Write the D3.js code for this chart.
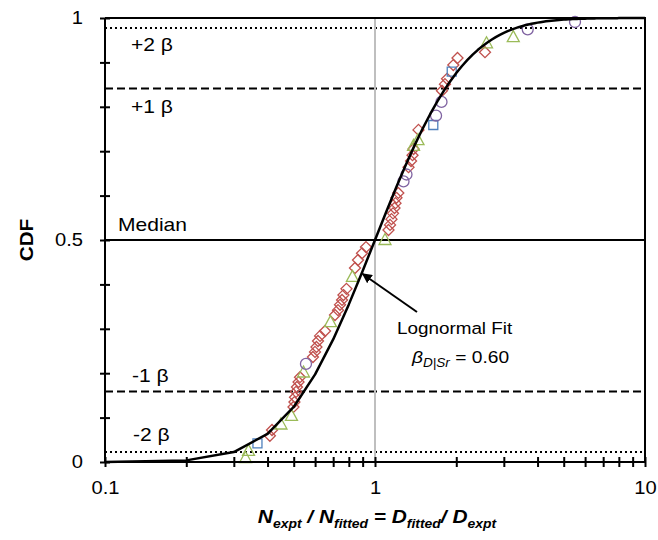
<!DOCTYPE html>
<html>
<head>
<meta charset="utf-8">
<script src="https://cdn.jsdelivr.net/npm/d3@7"></script>
<style>
  html, body { margin: 0; padding: 0; background: #fff; }
  svg { display: block; font-family: "Liberation Sans", Arial, sans-serif; }
</style>
</head>
<body>
<svg id="chart" width="658" height="540"></svg>
<script>
// Empirical CDF of the ratio N_expt / N_fitted, split by test series
const diamondX   = [0.408, 0.4155, 0.499, 0.503, 0.5055, 0.510, 0.514, 0.521, 0.5275, 0.589, 0.5995, 0.607, 0.615, 0.626, 0.653, 0.711, 0.7295, 0.742, 0.755, 0.764, 0.784, 0.843, 0.865, 0.895, 0.926, 1.122, 1.137, 1.151, 1.166, 1.181, 1.191, 1.201, 1.220, 1.331, 1.360, 1.377, 1.389, 1.449, 1.770, 1.816, 1.848, 1.950, 2.021, 2.555];
const diamondCDF = [0.059, 0.072, 0.124, 0.135, 0.146, 0.158, 0.169, 0.180, 0.191, 0.2365, 0.248, 0.259, 0.2725, 0.284, 0.295, 0.331, 0.342, 0.354, 0.365, 0.376, 0.390, 0.437, 0.455, 0.470, 0.484, 0.5225, 0.534, 0.547, 0.560, 0.572, 0.583, 0.595, 0.606, 0.664, 0.678, 0.691, 0.705, 0.748, 0.836, 0.851, 0.863, 0.894, 0.910, 0.923];

const triangleX   = [0.3315, 0.340, 0.4485, 0.4905, 0.5435, 0.684, 0.825, 1.089, 1.389, 1.443, 2.588, 3.252];
const triangleCDF = [0.009, 0.025, 0.0845, 0.104, 0.2016, 0.315, 0.417, 0.500, 0.712, 0.725, 0.943, 0.957];

const squareX   = [0.367, 1.644, 1.924];
const squareCDF = [0.042, 0.759, 0.879];

const circleX   = [0.555, 1.275, 1.308, 1.683, 1.763, 3.678, 5.505];
const circleCDF = [0.221, 0.632, 0.6475, 0.780, 0.811, 0.9745, 0.991];

// Lognormal fit: median 1.0, dispersion beta
const fitMedian = 1.0;
const fitBeta = 0.60;
const fitX = d3.range(1, 101).map(i => i / 10);

// Reference levels (median and +/- 1, 2 beta)
const refLevels = [
  { z: 2,  label: "+2 β",   style: "dot" },
  { z: 1,  label: "+1 β",   style: "dash" },
  { z: 0,  label: "Median", style: "solid" },
  { z: -1, label: "-1 β",   style: "dash" },
  { z: -2, label: "-2 β",   style: "dot" }
];

const xTickValues = [0.1,0.2,0.3,0.4,0.5,0.6,0.7,0.8,0.9,1,2,3,4,5,6,7,8,9,10];
const xTickLabels = { 0.1: "0.1", 1: "1", 10: "10" };
const yTickValues = d3.range(0, 11).map(i => i / 10);
const yTickLabels = { 0: "0", 0.5: "0.5", 1: "1" };

// Standard normal CDF (Abramowitz & Stegun 7.1.26)
function phi(z) {
  const t = 1 / (1 + 0.3275911 * Math.abs(z) / Math.SQRT2);
  const e = 1 - (((((1.061405429 * t - 1.453152027) * t) + 1.421413741) * t - 0.284496736) * t + 0.254829592) * t * Math.exp(-z * z / 2);
  return z >= 0 ? 0.5 * (1 + e) : 0.5 * (1 - e);
}

const svg = d3.select("#chart");
const plotL = 105, plotR = 645, plotT = 18, plotB = 462;
const wide = 1.17; // horizontal stretch applied to text glyphs

const x = d3.scaleLog().domain([0.1, 10]).range([plotL, plotR]);
const y = d3.scaleLinear().domain([0, 1]).range([plotB, plotT]);

function addText(px, py, str, size, sx, extra) {
  const t = svg.append("text")
    .attr("transform", `translate(${px},${py}) scale(${sx},1)`)
    .attr("font-size", size).attr("fill", "#000");
  if (str !== null) t.text(str);
  if (extra) extra(t);
  return t;
}

// Reference lines
const dashes = { dot: "2,3", dash: "8,4", solid: null };
refLevels.forEach(r => {
  const p = phi(r.z);
  svg.append("line")
    .attr("x1", plotL).attr("x2", plotR)
    .attr("y1", y(p)).attr("y2", y(p))
    .attr("stroke", "#000").attr("stroke-width", 2)
    .attr("stroke-dasharray", dashes[r.style]);
});

// Vertical line at ratio = 1
svg.append("line")
  .attr("x1", x(1)).attr("x2", x(1))
  .attr("y1", plotT).attr("y2", plotB)
  .attr("stroke", "#bfbfbf").attr("stroke-width", 2);

// Reference labels
const refLabelPos = { 2: [131, 51], 1: [131, 113], 0: [118, 231], "-1": [132, 382], "-2": [133, 441] };
refLevels.forEach(r => {
  addText(refLabelPos[r.z][0], refLabelPos[r.z][1], r.label, 18, 1.17);
});

// Markers
const diamondPath = "M0,-5.5L5.5,0L0,5.5L-5.5,0Z";
const trianglePath = "M0,-6.5L6,4.5L-6,4.5Z";
const squarePath = "M-4.5,-4.5H4.5V4.5H-4.5Z";

function drawSeries(xs, cdfs, path, color) {
  const pts = xs.map((v, i) => [v, cdfs[i]]);
  svg.append("g").selectAll("path").data(pts).join("path")
    .attr("d", path)
    .attr("transform", d => `translate(${x(d[0])},${y(d[1])})`)
    .attr("fill", "none").attr("stroke", color).attr("stroke-width", 1.3);
}
drawSeries(diamondX, diamondCDF, diamondPath, "#C0504D");
drawSeries(triangleX, triangleCDF, trianglePath, "#9BBB59");
drawSeries(squareX, squareCDF, squarePath, "#4F81BD");
svg.append("g").selectAll("circle").data(circleX.map((v, i) => [v, circleCDF[i]])).join("circle")
  .attr("cx", d => x(d[0])).attr("cy", d => y(d[1])).attr("r", 5.5)
  .attr("fill", "none").attr("stroke", "#8064A2").attr("stroke-width", 1.3);

// Lognormal fit curve
const fitLine = d3.line()
  .x(d => x(d))
  .y(d => y(phi(Math.log(d / fitMedian) / fitBeta)));
svg.append("path")
  .datum(fitX)
  .attr("d", fitLine)
  .attr("fill", "none").attr("stroke", "#000").attr("stroke-width", 2.5)
  .attr("stroke-linejoin", "round");

// Plot frame (top and right)
svg.append("path")
  .attr("d", `M${plotL},${plotT}H${plotR}V${plotB}`)
  .attr("fill", "none").attr("stroke", "#000").attr("stroke-width", 2);

// Axes with ticks crossing the axis line
const yAxis = d3.axisLeft(y).tickValues(yTickValues).tickSize(5)
  .tickFormat(d => yTickLabels[d] !== undefined ? yTickLabels[d] : "");
const gy = svg.append("g").attr("transform", `translate(${plotL},0)`).call(yAxis);
gy.selectAll(".tick line").attr("x1", -5).attr("x2", 5).attr("stroke-width", 2);
gy.select(".domain").attr("stroke-width", 2).attr("d", `M0,${plotT}V${plotB}`);
gy.selectAll(".tick text")
  .attr("x", -22 / 1.12).attr("font-size", 18)
  .attr("transform", "scale(1.12,1)")
  .attr("font-family", "Liberation Sans, Arial, sans-serif");

const xAxis = d3.axisBottom(x).tickValues(xTickValues).tickSize(5)
  .tickFormat(d => xTickLabels[d] !== undefined ? xTickLabels[d] : "");
const gx = svg.append("g").attr("transform", `translate(0,${plotB})`).call(xAxis);
gx.selectAll(".tick line").attr("y1", -5).attr("y2", 5).attr("stroke-width", 2);
gx.select(".domain").attr("stroke-width", 2).attr("d", `M${plotL},0H${plotR}`);
gx.selectAll(".tick text")
  .attr("y", 19).attr("font-size", 18)
  .attr("transform", "scale(1.12,1)")
  .attr("font-family", "Liberation Sans, Arial, sans-serif");

// Axis titles
svg.append("text")
  .attr("transform", "translate(33,240) rotate(-90) scale(1.15,1)")
  .attr("text-anchor", "middle")
  .attr("font-size", 18).attr("font-weight", "bold")
  .text("CDF");

const xt = svg.append("text")
  .attr("transform", "translate(377,523) scale(1.16,1)")
  .attr("text-anchor", "middle")
  .attr("font-size", 18).attr("font-weight", "bold").attr("font-style", "italic");
const titleParts = [
  ["N", false], ["expt", true], [" / N", false], ["fitted", true],
  [" = D", false], ["fitted", true], ["/ D", false], ["expt", true]
];
titleParts.forEach(([t, sub], i) => {
  const prevSub = i > 0 && titleParts[i - 1][1];
  xt.append("tspan")
    .attr("dy", sub ? 5 : (prevSub ? -5 : 0))
    .attr("font-size", sub ? 12 : 18)
    .text(t);
});

// Fit annotation with arrow
svg.append("defs").append("marker")
  .attr("id", "arrowhead")
  .attr("viewBox", "0 0 10 10").attr("refX", 9).attr("refY", 5)
  .attr("markerWidth", 5).attr("markerHeight", 5)
  .attr("orient", "auto")
  .append("path").attr("d", "M0,0L10,5L0,10Z").attr("fill", "#000");

svg.append("line")
  .attr("x1", 417).attr("y1", 312)
  .attr("x2", x(0.9)).attr("y2", y(phi(Math.log(0.9 / fitMedian) / fitBeta)) + 3)
  .attr("stroke", "#000").attr("stroke-width", 2)
  .attr("marker-end", "url(#arrowhead)");

addText(397, 334, "Lognormal Fit", 17, 1.11);

addText(412, 363, null, 17, 1.13, t => {
  t.append("tspan").attr("font-style", "italic").text("β");
  t.append("tspan").attr("font-style", "italic").attr("font-size", 12).attr("dy", 4).text("D|Sr");
  t.append("tspan").attr("dy", -4).text(" = 0.60");
});
</script>
</body>
</html>
